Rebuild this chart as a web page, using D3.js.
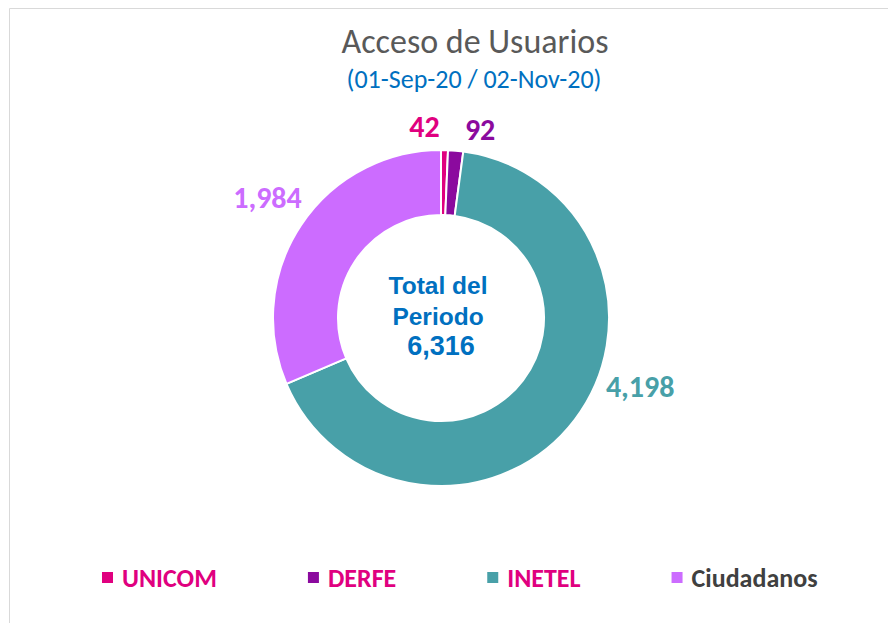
<!DOCTYPE html>
<html>
<head>
<meta charset="utf-8">
<script src="https://cdn.jsdelivr.net/npm/d3@7"></script>
<style>
  html, body { margin: 0; padding: 0; background: #ffffff; }
  svg { display: block; }
</style>
</head>
<body>
<svg id="chart" width="888" height="623"></svg>
<script>
// ---- data ----
const categories = ["UNICOM", "DERFE", "INETEL", "Ciudadanos"];
const values = [42, 92, 4198, 1984];
const colors = ["#E0007F", "#8B0A9E", "#48A0A8", "#CC6CFF"];
const legendTextColors = ["#E0007F", "#E0007F", "#E0007F", "#404040"];
const titleText = "Acceso de Usuarios";
const subtitleText = "(01-Sep-20 / 02-Nov-20)";
const centerLines = ["Total del", "Periodo"];

// ---- layout ----
const W = 888, H = 623;
const cx = 441, cy = 318, R = 168, r = 103;
const calibri = "Carlito, Calibri, Lato, sans-serif";

const svg = d3.select("#chart");

// frame (top & left border visible)
svg.append("path")
  .attr("d", `M9.5,${H} L9.5,8.5 L${W},8.5`)
  .attr("fill", "none").attr("stroke", "#d9d9d9").attr("stroke-width", 1);

// titles
svg.append("text").attr("x", 475).attr("y", 53)
  .attr("text-anchor", "middle").attr("font-family", calibri)
  .attr("font-size", 34).attr("fill", "#595959").text(titleText);
svg.append("text").attr("x", 474).attr("y", 88)
  .attr("text-anchor", "middle").attr("font-family", calibri)
  .attr("font-size", 26).attr("fill", "#0070C0").text(subtitleText);

// donut
const total = d3.sum(values);
const pie = d3.pie().sort(null).value(d => d)(values);
const arc = d3.arc().innerRadius(r).outerRadius(R);
const g = svg.append("g").attr("transform", `translate(${cx},${cy})`);
g.selectAll("path.slice").data(pie).join("path")
  .attr("class", "slice")
  .attr("d", arc)
  .attr("fill", (d, i) => colors[i])
  .attr("stroke", "#ffffff").attr("stroke-width", 2).attr("stroke-linejoin", "round");

// data labels (outside end, Excel-like nudges)
const labelArc = d3.arc().innerRadius(190).outerRadius(190);
const nudges = [[-20.5, 9], [22.5, 11.5], [48, -36], [-15, -5]];
const fmt = d3.format(",");
g.selectAll("text.lbl").data(pie).join("text")
  .attr("class", "lbl")
  .attr("x", (d, i) => labelArc.centroid(d)[0] + nudges[i][0])
  .attr("y", (d, i) => labelArc.centroid(d)[1] + nudges[i][1])
  .attr("text-anchor", "middle")
  .attr("font-family", calibri).attr("font-weight", "bold").attr("font-size", 30)
  .attr("fill", (d, i) => colors[i])
  .text(d => fmt(d.data));

// center text
const centerAll = centerLines.concat([fmt(total)]);
g.selectAll("text.ctr").data(centerAll).join("text")
  .attr("class", "ctr")
  .attr("x", (d, i) => i === 2 ? 0 : -3)
  .attr("y", (d, i) => -24 + i * 30.5)
  .attr("text-anchor", "middle")
  .attr("font-family", "'Liberation Sans', Arial, sans-serif")
  .attr("font-weight", "bold")
  .attr("font-size", (d, i) => i === 2 ? 27 : 24.5)
  .attr("fill", "#0070C0")
  .text(d => d);

// legend: entries laid out by measured text width
const lgRoot = svg.append("g");
let lx = 102;
categories.forEach((c, i) => {
  const e = lgRoot.append("g").attr("transform", `translate(${lx},587)`);
  e.append("rect").attr("x", 0).attr("y", -15).attr("width", 11).attr("height", 11)
    .attr("fill", colors[i]);
  const t = e.append("text").attr("x", 20).attr("y", 0)
    .attr("font-family", calibri).attr("font-weight", "bold")
    .attr("font-size", 26)
    .attr("fill", legendTextColors[i])
    .text(c);
  lx += 20 + t.node().getComputedTextLength() + 91;
});
</script>
</body>
</html>
